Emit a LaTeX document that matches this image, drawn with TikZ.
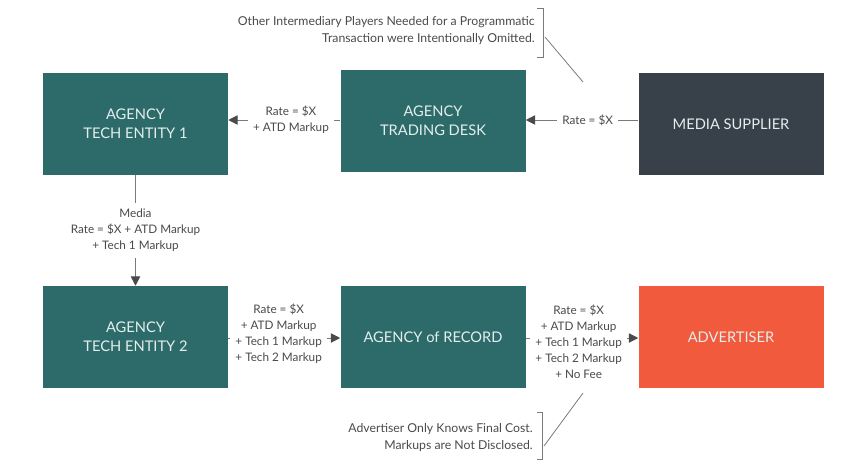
\documentclass[tikz,border=0pt]{standalone}
\usepackage{fontspec}
\setmainfont{Lato}
\usetikzlibrary{arrows.meta}

\definecolor{agencyteal}{HTML}{2D6B6B}
\definecolor{supplierslate}{HTML}{38404A}
\definecolor{advertiserred}{HTML}{F15A3C}
\definecolor{boxtext}{HTML}{E4EEEC}
\definecolor{labeltext}{HTML}{4A4A4A}
\definecolor{linegray}{HTML}{7A7A7A}
\definecolor{arrowgray}{HTML}{4A4A4A}

\tikzset{
    entity/.style={rectangle, fill=agencyteal, text=boxtext, minimum width=138.75pt, minimum height=76.5pt,
        inner sep=0pt, align=center, font=\fontsize{11}{14.25}\selectfont},
    rate/.style={fill=white, text=labeltext, align=center, inner xsep=4pt, inner ysep=3pt,
        font=\fontsize{8.8}{12}\selectfont},
    note/.style={text=labeltext, align=right, anchor=east, inner sep=0pt, font=\fontsize{9.2}{12.5}\selectfont},
    flow/.style={draw=linegray, line width=0.75pt, -{Triangle[color=arrowgray, length=7pt, width=7pt]}},
    bracket/.style={draw=linegray, line width=0.6pt}
}

\begin{document}
\begin{tikzpicture}[x=0.75pt, y=-0.75pt]
    \useasboundingbox (0, 0) rectangle (857, 471);

    % top row
    \node[entity] (tech1) at (135.5, 124) {AGENCY\\TECH ENTITY 1};
    \node[entity] (desk) at (433, 121) {AGENCY\\TRADING DESK};
    \node[entity, fill=supplierslate] (supplier) at (731, 124) {MEDIA SUPPLIER};

    % bottom row
    \node[entity] (tech2) at (135.5, 337) {AGENCY\\TECH ENTITY 2};
    \node[entity] (record) at (433, 337) {AGENCY of RECORD};
    \node[entity, fill=advertiserred] (advertiser) at (731, 337) {ADVERTISER};

    % rate flows
    \draw[flow] (supplier.west |- 0, 120) -- node[rate, pos=0.45]{Rate = \$X} (desk.east |- 0, 120);
    \draw[flow] (desk.west |- 0, 120) -- node[rate, pos=0.44]{Rate = \$X\\+ ATD Markup} (tech1.east |- 0, 120);
    \draw[flow] (tech1.south) -- node[rate, inner ysep=5pt]{Media\\Rate = \$X + ATD Markup\\+ Tech 1 Markup} (tech2.north);
    \draw[flow] (tech2.east |- 0, 338) -- node[rate, pos=0.45, yshift=3.5pt]{Rate = \$X\\+ ATD Markup\\+ Tech 1 Markup\\+ Tech 2 Markup} (record.west |- 0, 338);
    \draw[flow] (record.east |- 0, 338) -- node[rate, pos=0.47, yshift=-2.5pt]{Rate = \$X\\+ ATD Markup\\+ Tech 1 Markup\\+ Tech 2 Markup\\+ No Fee} (advertiser.west |- 0, 338);

    % notes
    \node[note] (omitted) at (535, 30.5) {Other Intermediary Players Needed for a Programmatic\\Transaction were Intentionally Omitted.};
    \draw[bracket] (537, 8) -- (543, 8) -- (543, 57) -- (537, 57);
    \coordinate (omitted tip) at (545, 37);
    \coordinate (omitted end) at (583, 82);
    \draw[bracket] (omitted tip) -- (omitted end);

    \node[note] (disclosed) at (533, 437.5) {Advertiser Only Knows Final Cost.\\Markups are Not Disclosed.};
    \draw[bracket] (537, 412) -- (542, 412) -- (542, 459) -- (537, 459);
    \coordinate (disclosed tip) at (544, 446);
    \coordinate (disclosed end) at (583, 393);
    \draw[bracket] (disclosed tip) -- (disclosed end);
\end{tikzpicture}
\end{document}
